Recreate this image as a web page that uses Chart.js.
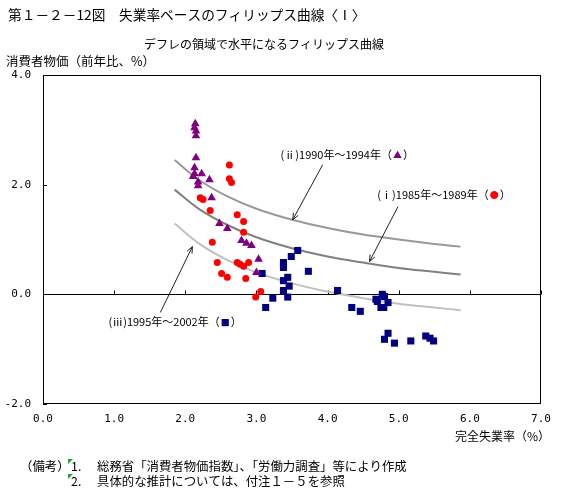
<!DOCTYPE html>
<html lang="ja">
<head>
<meta charset="utf-8">
<title>失業率ベースのフィリップス曲線</title>
<script src="https://cdn.jsdelivr.net/npm/chart.js@4.4.1/dist/chart.umd.min.js"></script>
<style>
  html, body { margin: 0; padding: 0; background: #fff; }
  #wrap { width: 567px; height: 489px; }
</style>
</head>
<body>
<div id="wrap"><canvas id="phillips-chart" width="567" height="489"></canvas></div>
<script>
// ====== DATA ======
const xTicks = [0, 1, 2, 3, 4, 5, 6, 7];
const yTicks = [-2, 0, 2, 4];

// (i) 1985-1989 : unemployment rate / CPI
const rate8589 = [2.62, 2.62, 2.65, 2.21, 2.25, 2.35, 2.73, 2.82, 2.82, 2.38,
                  2.45, 2.51, 2.59, 2.73, 2.77, 2.82, 2.89, 2.85, 3.06, 2.99];
const cpi8589  = [2.36, 2.11, 2.04, 1.76, 1.73, 1.53, 1.45, 1.33, 1.13, 0.95,
                  0.58, 0.38, 0.31, 0.58, 0.55, 0.51, 0.58, 0.29, 0.05, -0.05];

// (ii) 1990-1994
const rate9094 = [2.14, 2.13, 2.15, 2.15, 2.15, 2.13, 2.13, 2.23, 2.11, 2.34,
                  2.18, 2.18, 2.37, 2.48, 2.59, 2.79, 2.86, 2.93, 3.03, 3.00];
const cpi9094  = [3.11, 3.04, 2.98, 2.89, 2.49, 2.31, 2.20, 2.20, 2.15, 2.09,
                  2.05, 1.98, 1.76, 1.29, 1.20, 0.98, 0.93, 0.89, 0.64, 0.40];

// (iii) 1995-2002
const rate9502 = [3.58, 3.49, 3.38, 3.38, 3.08, 3.73, 3.44, 3.38, 3.46, 3.38,
                  3.44, 3.23, 3.13, 4.14, 4.34, 4.46, 4.68, 4.70, 4.77, 4.80,
                  4.85, 4.75, 4.79, 4.85, 4.80, 4.94, 5.17, 5.38, 5.44, 5.49];
const cpi9502  = [0.80, 0.69, 0.58, 0.49, 0.38, 0.42, 0.31, 0.25, 0.15, 0.07,
                  -0.05, -0.07, -0.24, 0.07, -0.24, -0.31, -0.09, -0.13, 0.00, -0.04,
                  -0.15, -0.24, -0.24, -0.71, -0.82, -0.89, -0.85, -0.76, -0.80, -0.85];

// estimated curves
const curveRate = [1.85, 2.2, 2.6, 3.0, 3.5, 4.0, 4.5, 5.0, 5.5, 5.87];
const curveI    = [1.91, 1.55, 1.26, 1.04, 0.84, 0.69, 0.58, 0.48, 0.41, 0.36];
const curveII   = [2.45, 2.08, 1.78, 1.56, 1.36, 1.21, 1.09, 1.00, 0.92, 0.87];
const curveIII  = [1.29, 0.92, 0.62, 0.40, 0.20, 0.05, -0.07, -0.17, -0.24, -0.29];

// labels and arrows (data units: start text / arrow tail -> arrow head)
const labelII  = { pre: '(ⅱ)1990年～1994年（', sym: '▲', color: '#800080', x: 3.34, y: 2.55 };
const labelI   = { pre: '(ⅰ)1985年～1989年（', sym: '●', color: '#ff0000', x: 4.70, y: 1.82 };
const labelIII = { pre: '(ⅲ)1995年～2002年（', sym: '■', color: '#000080', x: 0.92, y: -0.51 };
const arrowII  = [3.93, 2.36, 3.51, 1.36];
const arrowI   = [4.99, 1.60, 4.59, 0.60];
const arrowIII = [1.65, -0.33, 2.10, 0.87];

const JP = '"Noto Sans CJK JP", sans-serif';

function toXY(xs, ys) {
  return xs.map((x, i) => ({ x: x, y: ys[i] }));
}


// ====== DECORATION PLUGIN ======
const decorPlugin = {
  id: 'decor',
  beforeDatasetsDraw(chart) {
    const { ctx, chartArea: a, scales } = chart;
    const xs = scales.x, ys = scales.y;
    ctx.save();
    ctx.strokeStyle = '#000';
    ctx.lineWidth = 1;
    // frame
    ctx.strokeRect(a.left + 0.5, a.top + 0.5, a.right - a.left - 1, a.bottom - a.top - 1);
    // zero line
    const y0 = Math.round(ys.getPixelForValue(0)) + 0.5;
    ctx.beginPath();
    ctx.moveTo(a.left, y0);
    ctx.lineTo(a.right, y0);
    // small ticks on zero line
    xTicks.forEach(v => {
      const px = Math.round(xs.getPixelForValue(v)) + 0.5;
      ctx.moveTo(px, y0);
      ctx.lineTo(px, y0 - 4);
    });
    // inner ticks on left axis
    yTicks.forEach(v => {
      const py = Math.round(ys.getPixelForValue(v)) + 0.5;
      ctx.moveTo(a.left, py);
      ctx.lineTo(a.left + 4, py);
    });
    ctx.stroke();
    ctx.restore();
  },
  afterDatasetsDraw(chart) {
    const { ctx, scales } = chart;
    const xs = scales.x, ys = scales.y;
    ctx.save();

    // arrows
    ctx.strokeStyle = '#222';
    ctx.lineWidth = 1;
    [arrowII, arrowI, arrowIII].forEach(ar => {
      const x1 = xs.getPixelForValue(ar[0]), y1 = ys.getPixelForValue(ar[1]);
      const x2 = xs.getPixelForValue(ar[2]), y2 = ys.getPixelForValue(ar[3]);
      const ang = Math.atan2(y2 - y1, x2 - x1);
      ctx.beginPath();
      ctx.moveTo(x1, y1);
      ctx.lineTo(x2, y2);
      ctx.moveTo(x2, y2);
      ctx.lineTo(x2 - 7 * Math.cos(ang - 0.4), y2 - 7 * Math.sin(ang - 0.4));
      ctx.moveTo(x2, y2);
      ctx.lineTo(x2 - 7 * Math.cos(ang + 0.4), y2 - 7 * Math.sin(ang + 0.4));
      ctx.stroke();
    });

    // series labels
    ctx.font = '11px ' + JP;
    ctx.textBaseline = 'middle';
    ctx.textAlign = 'left';
    [labelII, labelI, labelIII].forEach(lb => {
      let px = xs.getPixelForValue(lb.x);
      const py = ys.getPixelForValue(lb.y);
      ctx.fillStyle = '#000';
      ctx.fillText(lb.pre, px, py);
      px += ctx.measureText(lb.pre).width;
      ctx.fillStyle = lb.color;
      ctx.font = '9px ' + JP;
      ctx.fillText(lb.sym, px + 1, py);
      const w = ctx.measureText(lb.sym).width;
      ctx.font = '11px ' + JP;
      ctx.fillStyle = '#000';
      ctx.fillText('）', px + w + 2, py);
    });
    ctx.restore();
  },
  afterDraw(chart) {
    const ctx = chart.ctx;
    ctx.save();
    ctx.fillStyle = '#000';
    ctx.textBaseline = 'middle';

    ctx.font = '13.7px ' + JP;
    ctx.textAlign = 'left';
    ctx.fillText('第１－２－12図　失業率ベースのフィリップス曲線〈Ⅰ〉', 8, 15);

    ctx.font = '12px ' + JP;
    ctx.textAlign = 'center';
    ctx.fillText('デフレの領域で水平になるフィリップス曲線', 264, 44);

    ctx.textAlign = 'left';
    ctx.font = '12.5px ' + JP;
    ctx.fillText('消費者物価（前年比、%）', 6, 61);

    ctx.textAlign = 'right';
    ctx.font = '12px ' + JP;
    ctx.fillText('完全失業率（%）', 550, 436);

    ctx.textAlign = 'left';
    ctx.font = '12.4px ' + JP;
    ctx.fillText('（備考）', 20, 466);
    ctx.fillText('1.', 71, 466);
    ctx.fillText('総務省「消費者物価指数」、「労働力調査」等により作成', 97, 466);
    ctx.fillText('2.', 71, 481);
    ctx.fillText('具体的な推計については、付注１－５を参照', 97, 481);

    // small green comment markers
    ctx.fillStyle = '#2e9e2e';
    [459, 474].forEach(y => {
      ctx.beginPath();
      ctx.moveTo(68, y);
      ctx.lineTo(73, y);
      ctx.lineTo(68, y + 5);
      ctx.closePath();
      ctx.fill();
    });
    ctx.restore();
  }
};


// ====== CHART ======
const ctx = document.getElementById('phillips-chart').getContext('2d');

const curveStyle = (color, data) => ({
  type: 'line',
  data: toXY(curveRate, data),
  borderColor: color,
  borderWidth: 2,
  pointRadius: 0,
  tension: 0.4,
  fill: false
});

new Chart(ctx, {
  type: 'scatter',
  data: {
    datasets: [
      {
        label: '1985-1989',
        data: toXY(rate8589, cpi8589),
        pointStyle: 'circle',
        pointRadius: 3.5,
        backgroundColor: '#ff0000',
        borderColor: '#ff0000',
        borderWidth: 0
      },
      {
        label: '1990-1994',
        data: toXY(rate9094, cpi9094),
        pointStyle: 'triangle',
        pointRadius: 5,
        backgroundColor: '#800080',
        borderColor: '#800080',
        borderWidth: 0
      },
      {
        label: '1995-2002',
        data: toXY(rate9502, cpi9502),
        pointStyle: 'rect',
        pointRadius: 5,
        backgroundColor: '#000080',
        borderColor: '#000080',
        borderWidth: 0
      },
      curveStyle('#999999', curveII),
      curveStyle('#808080', curveI),
      curveStyle('#c0c0c0', curveIII)
    ]
  },
  options: {
    responsive: false,
    animation: false,
    layout: { padding: { top: 75, left: 0, right: 26, bottom: 0 } },
    plugins: {
      legend: { display: false },
      tooltip: { enabled: false },
      title: { display: false }
    },
    scales: {
      x: {
        type: 'linear',
        min: 0,
        max: 7,
        afterBuildTicks: scale => { scale.ticks = xTicks.map(v => ({ value: v })); },
        afterFit: scale => { scale.height = 85; },
        grid: { display: false, drawTicks: false },
        border: { display: false },
        ticks: {
          padding: 9,
          color: '#000',
          font: { family: '"DejaVu Sans Mono", monospace', size: 11 },
          callback: v => v.toFixed(1)
        }
      },
      y: {
        type: 'linear',
        min: -2,
        max: 4,
        afterBuildTicks: scale => { scale.ticks = yTicks.map(v => ({ value: v })); },
        afterFit: scale => { scale.width = 43; },
        grid: { display: false, drawTicks: false },
        border: { display: false },
        ticks: {
          padding: 12,
          color: '#000',
          font: { family: '"DejaVu Sans Mono", monospace', size: 11 },
          callback: v => v.toFixed(1)
        }
      }
    }
  },
  plugins: [decorPlugin]
});
</script>
</body>
</html>
